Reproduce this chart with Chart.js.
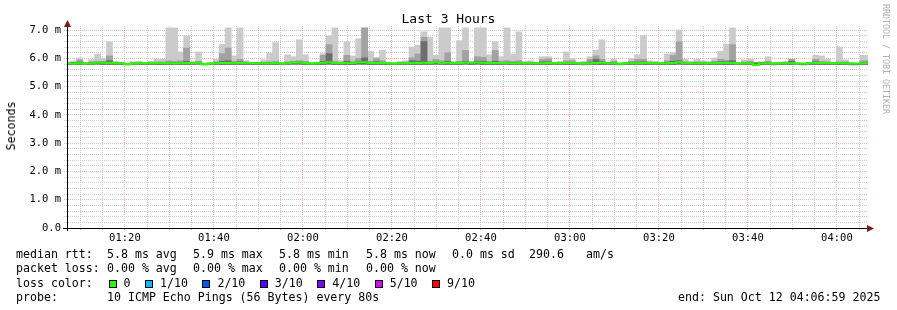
<!DOCTYPE html>
<html>
<head>
<meta charset="utf-8">
<title>Last 3 Hours</title>
<script src="https://cdn.jsdelivr.net/npm/chart.js@4.4.0/dist/chart.umd.min.js"></script>
<style>
  body { margin: 0; background: #fff; }
  #wrap { position: relative; width: 897px; height: 310px; overflow: hidden;
          font-family: 'DejaVu Sans Mono', monospace; color: #000; }
  #wrap canvas { position: absolute; left: 0; top: 0; }
  .txt { position: absolute; white-space: pre; font-size: 11.6px; line-height: 14px; }
  .box { display: inline-block; width: 6px; height: 6px; border: 1px solid #000;
         vertical-align: -1px; margin-right: 7px; }
  .gap { display: inline-block; width: 14.5px; }
</style>
</head>
<body>
<div id="wrap">
  <canvas id="smoke" width="897" height="310"></canvas>
  <div class="txt" style="left:0;width:897px;top:12px;text-align:center;font-size:13px">Last 3 Hours</div>
  <div class="txt" style="left:11px;top:126px;transform:translate(-50%,-50%) rotate(-90deg)">Seconds</div>
  <div class="txt" style="left:881px;top:4px;writing-mode:vertical-rl;font-size:8.3px;line-height:10px;color:#b0b0b0">RRDTOOL / TOBI OETIKER</div>
  <div id="legend"></div>
</div>
<script>
// time axis
const timeLabels = ['01:20', '01:40', '02:00', '02:20', '02:40', '03:00', '03:20', '03:40', '04:00'];
const rttLabels = ['0.0', '1.0 m', '2.0 m', '3.0 m', '4.0 m', '5.0 m', '6.0 m', '7.0 m'];
const axisStart = 66 + 59 / 60;        // 01:06:59, minutes after midnight
const axisEnd = axisStart + 180;       // 04:06:59
const stepMinutes = 80 / 60;           // one ping round every 80 s
const firstStep = 67.2;                // centre of the first (clipped) step

// smoke, in ms (top of each grey band) and the median line
const smokeMin = [
  5.79, 5.79, 5.79, 5.79, 5.79, 5.80, 5.79, 5.79, 5.79, 5.79,
  5.78, 5.79, 5.79, 5.79, 5.79, 5.79, 5.79, 5.79, 5.79, 5.79,
  5.79, 5.79, 5.80, 5.78, 5.79, 5.79, 5.79, 5.79, 5.79, 5.79,
  5.79, 5.79, 5.79, 5.79, 5.79, 5.79, 5.79, 5.79, 5.80, 5.80,
  5.79, 5.79, 5.79, 5.79, 5.80, 5.79, 5.79, 5.79, 5.79, 5.80,
  5.80, 5.79, 5.79, 5.79, 5.79, 5.79, 5.79, 5.79, 5.79, 5.79,
  5.79, 5.79, 5.80, 5.79, 5.79, 5.79, 5.79, 5.80, 5.79, 5.80,
  5.79, 5.79, 5.79, 5.79, 5.79, 5.79, 5.79, 5.79, 5.79, 5.79,
  5.79, 5.79, 5.79, 5.79, 5.79, 5.79, 5.79, 5.78, 5.79, 5.79,
  5.79, 5.79, 5.79, 5.78, 5.79, 5.79, 5.79, 5.79, 5.79, 5.79,
  5.79, 5.79, 5.79, 5.80, 5.79, 5.79, 5.79, 5.79, 5.79, 5.79,
  5.79, 5.79, 5.79, 5.79, 5.79, 5.79, 5.75, 5.79, 5.79, 5.78,
  5.79, 5.79, 5.79, 5.79, 5.78, 5.79, 5.79, 5.79, 5.79, 5.79,
  5.79, 5.79, 5.78, 5.78, 5.79, 5.79
];
const smokeDark = [
  5.83, 5.85, 5.87, 5.83, 5.85, 5.87, 5.87, 5.92, 5.84, 5.84,
  5.80, 5.83, 5.84, 5.83, 5.84, 5.85, 5.85, 5.86, 5.85, 5.86,
  5.90, 5.84, 5.87, 5.80, 5.83, 5.85, 5.90, 5.92, 5.86, 5.88,
  5.86, 5.84, 5.84, 5.85, 5.85, 5.86, 5.83, 5.85, 5.87, 5.88,
  5.86, 5.83, 5.84, 5.90, 6.17, 5.86, 5.85, 5.90, 5.86, 5.90,
  6.02, 5.86, 5.88, 5.86, 5.84, 5.83, 5.84, 5.85, 5.92, 5.90,
  6.60, 5.86, 5.88, 5.86, 5.90, 5.84, 5.86, 5.90, 5.84, 5.90,
  5.90, 5.86, 5.90, 5.86, 5.86, 5.86, 5.86, 5.84, 5.85, 5.84,
  5.88, 5.88, 5.84, 5.84, 5.86, 5.86, 5.84, 5.84, 5.87, 5.97,
  5.88, 5.84, 5.86, 5.81, 5.84, 5.86, 5.87, 5.88, 5.85, 5.84,
  5.84, 5.86, 5.90, 5.92, 5.85, 5.84, 5.85, 5.85, 5.84, 5.86,
  5.88, 5.88, 5.92, 5.83, 5.85, 5.86, 5.84, 5.86, 5.86, 5.83,
  5.84, 5.84, 5.90, 5.83, 5.81, 5.84, 5.88, 5.86, 5.85, 5.84,
  5.85, 5.85, 5.83, 5.81, 5.86, 5.86
];
const smokeMid = [
  5.85, 5.87, 5.95, 5.84, 5.88, 5.90, 5.90, 6.09, 5.86, 5.85,
  5.81, 5.85, 5.86, 5.84, 5.85, 5.88, 5.88, 5.92, 5.90, 5.92,
  6.37, 5.86, 5.90, 5.81, 5.84, 5.88, 6.17, 6.37, 5.90, 5.97,
  5.88, 5.85, 5.85, 5.87, 5.88, 5.90, 5.84, 5.88, 5.90, 5.92,
  5.90, 5.84, 5.85, 6.11, 6.49, 5.90, 5.87, 6.11, 5.90, 6.00,
  7.08, 5.90, 5.99, 5.92, 5.85, 5.84, 5.86, 5.87, 6.02, 6.16,
  6.75, 5.90, 5.97, 5.92, 6.20, 5.86, 5.90, 6.28, 5.86, 6.06,
  6.04, 5.90, 6.28, 5.90, 5.92, 5.90, 5.92, 5.86, 5.87, 5.85,
  5.97, 5.99, 5.85, 5.86, 5.92, 5.92, 5.85, 5.86, 5.97, 6.09,
  5.97, 5.85, 5.90, 5.82, 5.85, 5.90, 5.97, 5.97, 5.87, 5.86,
  5.85, 5.92, 6.11, 6.59, 5.88, 5.86, 5.88, 5.87, 5.86, 5.90,
  5.97, 5.94, 6.49, 5.84, 5.88, 5.90, 5.85, 5.88, 5.90, 5.84,
  5.85, 5.86, 5.97, 5.84, 5.82, 5.86, 5.97, 5.90, 5.88, 5.85,
  5.88, 5.88, 5.84, 5.82, 5.92, 5.92
];
const smokeMax = [
  5.87, 5.91, 6.02, 5.85, 5.96, 6.16, 6.00, 6.59, 5.90, 5.87,
  5.82, 5.89, 5.90, 5.85, 5.90, 5.97, 5.97, 7.08, 7.08, 6.23,
  6.80, 5.90, 6.23, 5.82, 5.85, 5.97, 6.50, 7.08, 6.09, 7.08,
  5.92, 5.87, 5.87, 5.95, 6.19, 6.56, 5.85, 6.13, 6.06, 6.66,
  6.13, 5.85, 5.87, 6.17, 6.80, 7.08, 5.92, 6.59, 6.09, 6.70,
  7.08, 6.25, 6.04, 6.29, 5.87, 5.85, 5.90, 5.92, 6.41, 6.47,
  6.94, 6.75, 6.11, 7.08, 7.08, 5.90, 6.63, 7.08, 5.90, 7.08,
  7.08, 6.13, 6.59, 6.06, 7.08, 6.16, 6.94, 5.90, 5.92, 5.87,
  6.06, 6.06, 5.87, 5.90, 6.23, 6.00, 5.87, 5.90, 6.06, 6.30,
  6.66, 5.87, 5.97, 5.83, 5.87, 6.00, 6.13, 6.80, 5.92, 5.90,
  5.87, 6.16, 6.20, 7.01, 5.97, 5.90, 5.97, 5.92, 5.90, 6.02,
  6.25, 6.51, 7.08, 5.85, 5.95, 5.97, 5.87, 5.85, 6.06, 5.85,
  5.87, 5.90, 5.97, 5.85, 5.83, 5.87, 6.11, 6.09, 5.97, 5.87,
  6.40, 5.95, 5.85, 5.83, 6.11, 6.11
];
const medianRtt = [
  5.82, 5.82, 5.83, 5.82, 5.82, 5.86, 5.85, 5.84, 5.83, 5.83,
  5.80, 5.82, 5.83, 5.83, 5.83, 5.84, 5.84, 5.83, 5.83, 5.83,
  5.84, 5.83, 5.85, 5.80, 5.82, 5.83, 5.84, 5.84, 5.83, 5.84,
  5.84, 5.83, 5.83, 5.83, 5.83, 5.84, 5.82, 5.83, 5.86, 5.86,
  5.84, 5.82, 5.83, 5.85, 5.87, 5.84, 5.84, 5.84, 5.84, 5.87,
  5.87, 5.84, 5.84, 5.84, 5.83, 5.82, 5.83, 5.83, 5.84, 5.84,
  5.85, 5.84, 5.87, 5.83, 5.85, 5.84, 5.84, 5.86, 5.85, 5.86,
  5.85, 5.84, 5.84, 5.84, 5.83, 5.83, 5.83, 5.83, 5.83, 5.83,
  5.83, 5.84, 5.83, 5.83, 5.84, 5.84, 5.83, 5.82, 5.83, 5.84,
  5.85, 5.83, 5.83, 5.81, 5.83, 5.83, 5.83, 5.84, 5.84, 5.83,
  5.83, 5.83, 5.84, 5.87, 5.83, 5.83, 5.83, 5.83, 5.83, 5.83,
  5.84, 5.84, 5.84, 5.82, 5.83, 5.83, 5.77, 5.83, 5.83, 5.82,
  5.83, 5.83, 5.83, 5.82, 5.82, 5.83, 5.84, 5.84, 5.84, 5.83,
  5.84, 5.83, 5.82, 5.82, 5.83, 5.83
];

// legend
const rttStats = ['5.8 ms avg', '5.9 ms max', '5.8 ms min', '5.8 ms now', '0.0 ms sd'];
const lossStats = ['0.00 % avg', '0.00 % max', '0.00 % min', '0.00 % now'];
const lossLevels = ['0', '1/10', '2/10', '3/10', '4/10', '5/10', '9/10'];
const lossColors = ['#26ff00', '#00b8ff', '#0059ff', '#5e00ff', '#7e00ff', '#dd00ff', '#ff0000'];

const statCols = [107, 193, 279, 366, 452];
const legend = document.getElementById('legend');
function put(x, y, html) {
  const d = document.createElement('div');
  d.className = 'txt';
  d.style.left = x + 'px';
  d.style.top = (y - 7) + 'px';
  d.innerHTML = html;
  legend.appendChild(d);
}
put(16, 254, 'median rtt:');
rttStats.forEach((s, i) => put(statCols[i], 254, s));
put(529, 254, '290.6');
put(586, 254, 'am/s');
put(16, 268, 'packet loss:');
lossStats.forEach((s, i) => put(statCols[i], 268, s));
put(16, 283, 'loss color:');
put(108.5, 283, lossLevels.map((l, i) =>
  `<span class="box" style="background:${lossColors[i]}"></span>${l}`).join('<span class="gap"></span>'));
put(16, 297, 'probe:');
put(107, 297, '10 ICMP Echo Pings (56 Bytes) every 80s');
put(678, 297, 'end: Sun Oct 12 04:06:59 2025');

// chart
const toMin = s => { const [h, m] = s.split(':').map(Number); return h * 60 + m; };
const majorX = timeLabels.map(toMin);
const times = smokeMax.map((_, i) => firstStep + i * stepMinutes);
const floating = top => top.map((v, i) => ({ x: times[i], y: [smokeMin[i], v] }));

const MAJOR = 'rgba(240,110,110,0.5)';
const MINOR = '#cdcdcd';
const isMajorY = v => Math.abs(v - Math.round(v)) < 1e-6;
const isMajorX = v => majorX.includes(Math.round(v));

const barOpts = { grouped: false, barPercentage: 1, categoryPercentage: 1, borderWidth: 0, inflateAmount: 0.4 };

const axisArrows = {
  id: 'axisArrows',
  afterDraw(chart) {
    const { ctx, chartArea: a } = chart;
    ctx.save();
    ctx.strokeStyle = '#000';
    ctx.lineWidth = 1;
    ctx.beginPath();
    ctx.moveTo(a.left - 4, a.bottom + 0.5);
    ctx.lineTo(a.right + 1, a.bottom + 0.5);
    ctx.moveTo(a.left + 0.5, a.bottom + 3);
    ctx.lineTo(a.left + 0.5, a.top);
    ctx.stroke();
    ctx.fillStyle = '#7a1a1a';
    ctx.beginPath();
    ctx.moveTo(a.left + 0.5, a.top - 6);
    ctx.lineTo(a.left - 3, a.top + 1);
    ctx.lineTo(a.left + 4, a.top + 1);
    ctx.closePath();
    ctx.fill();
    ctx.beginPath();
    ctx.moveTo(a.right + 6, a.bottom + 0.5);
    ctx.lineTo(a.right - 1, a.bottom - 3);
    ctx.lineTo(a.right - 1, a.bottom + 4);
    ctx.closePath();
    ctx.fill();
    ctx.restore();
  }
};

new Chart(document.getElementById('smoke').getContext('2d'), {
  type: 'bar',
  data: {
    datasets: [
      { type: 'line', data: times.map((t, i) => ({ x: t, y: medianRtt[i] })),
        borderColor: '#26ff00', borderWidth: 2, pointRadius: 0, stepped: 'middle', order: 1 },
      { data: floating(smokeDark), backgroundColor: '#6e6e6e', order: 2, ...barOpts },
      { data: floating(smokeMid), backgroundColor: '#a2a2a2', order: 3, ...barOpts },
      { data: floating(smokeMax), backgroundColor: '#cbcbcb', order: 4, ...barOpts }
    ]
  },
  options: {
    responsive: false,
    animation: false,
    devicePixelRatio: 1,
    events: [],
    layout: { padding: { left: 0, right: 29, top: 26, bottom: 62 }, autoPadding: false },
    plugins: { legend: { display: false }, tooltip: { enabled: false } },
    scales: {
      x: {
        type: 'linear', min: axisStart, max: axisEnd, offset: false,
        afterBuildTicks: scale => {
          const t = [];
          for (let m = Math.ceil(axisStart / 5) * 5; m <= axisEnd; m += 5) t.push({ value: m });
          scale.ticks = t;
        },
        afterFit: scale => { scale.height = 20; },
        grid: {
          offset: false, lineWidth: 1, tickLength: 3,
          color: c => isMajorX(c.tick.value) ? MAJOR : MINOR,
          tickColor: c => isMajorX(c.tick.value) ? MAJOR : MINOR,
          tickBorderDash: [1, 1]
        },
        border: { display: true, color: '#000', width: 1, dash: [1, 1] },
        ticks: {
          autoSkip: false, maxRotation: 0, padding: 1, color: '#000',
          font: { family: 'DejaVu Sans Mono', size: 10.5 },
          callback: v => { const i = majorX.indexOf(Math.round(v)); return i >= 0 ? timeLabels[i] : ''; }
        }
      },
      y: {
        type: 'linear', min: 0, max: 7.15,
        afterBuildTicks: scale => {
          const t = [];
          for (let i = 0; i <= (rttLabels.length - 1) * 5; i++) t.push({ value: i / 5 });
          scale.ticks = t;
        },
        afterFit: scale => { scale.width = 67; },
        grid: {
          lineWidth: 1, tickLength: 3,
          color: c => isMajorY(c.tick.value) ? MAJOR : MINOR,
          tickColor: c => isMajorY(c.tick.value) ? MAJOR : MINOR,
          tickBorderDash: [1, 1]
        },
        border: { display: true, color: '#000', width: 1, dash: [1, 1] },
        ticks: {
          autoSkip: false, padding: 3, color: '#000',
          font: { family: 'DejaVu Sans Mono', size: 10.5 },
          callback: v => isMajorY(v) ? rttLabels[Math.round(v)] : ''
        }
      }
    }
  },
  plugins: [axisArrows]
});
</script>
</body>
</html>
